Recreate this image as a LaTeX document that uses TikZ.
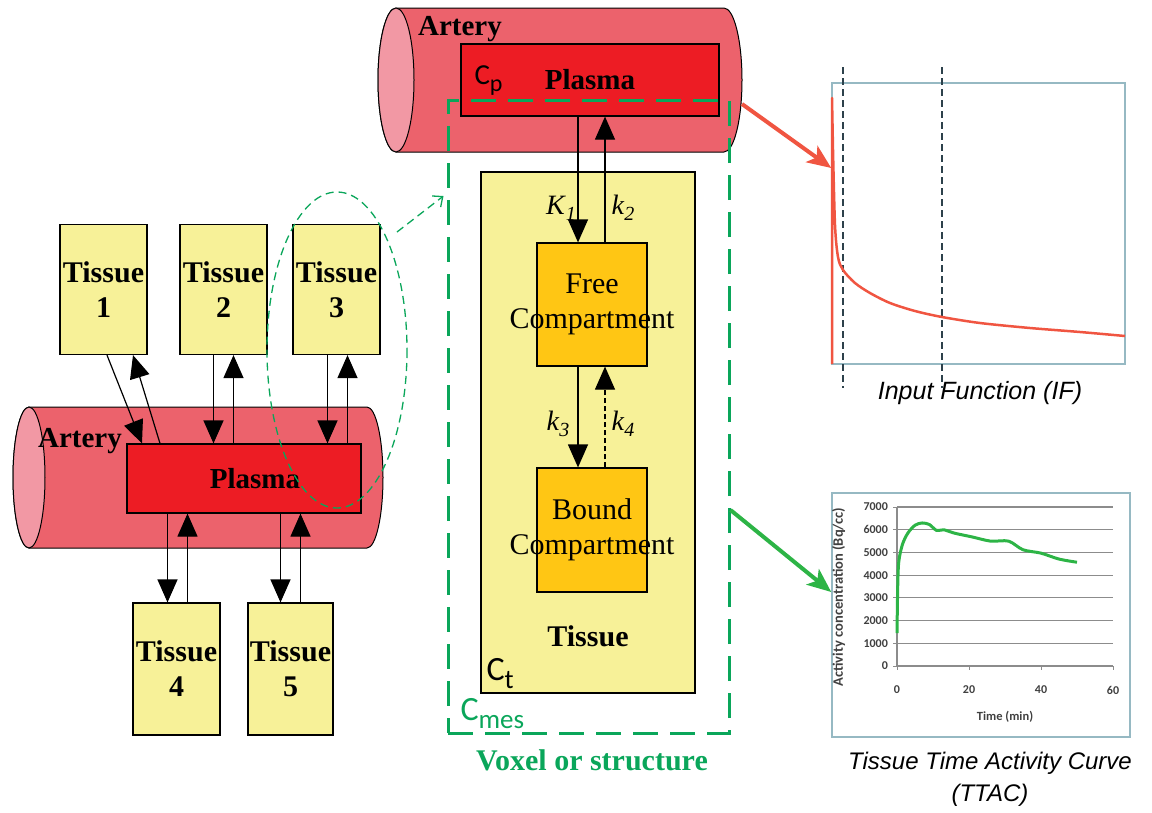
\documentclass[tikz,border=0pt]{standalone}
\usepackage{fontspec}
\setmainfont{Liberation Serif}
\setsansfont{Liberation Sans}
\newfontfamily\calfont{Carlito}
\usetikzlibrary{arrows.meta,calc}
\definecolor{arteryred}{RGB}{236,98,108}
\definecolor{arteryend}{RGB}{242,152,164}
\definecolor{plasmared}{RGB}{237,28,36}
\definecolor{tissueyel}{RGB}{247,241,152}
\definecolor{compyel}{RGB}{255,198,20}
\definecolor{voxgreen}{RGB}{10,166,90}
\definecolor{framegray}{RGB}{150,185,195}
\definecolor{ifred}{RGB}{240,85,65}
\definecolor{ifdark}{RGB}{45,65,75}
\definecolor{ttacgreen}{RGB}{45,180,70}
\definecolor{gridgray}{RGB}{140,140,140}
\newcommand{\fsz}[1]{\fontsize{#1}{#1}\selectfont}
\newcommand{\rate}[2]{\textit{#1}\raisebox{-6pt}{\fsz{20}\textit{#2}}}

\begin{document}
\begin{tikzpicture}[x=1pt, y=-1pt,
  tissuebox/.style={draw, line width=1.2pt, fill=tissueyel, minimum width=87pt, minimum height=130pt, inner sep=0pt, align=center, font=\fontsize{30}{35}\selectfont\bfseries},
  plasmabox/.style={draw, line width=1.2pt, fill=plasmared, inner sep=0pt, font=\fsz{29}\bfseries},
  compbox/.style={draw, line width=1.2pt, fill=compyel, minimum width=110pt, minimum height=123pt, inner sep=0pt, align=center, font=\fontsize{30}{35}\selectfont},
  arr/.style={-{Triangle[length=23pt,width=20pt]}, line width=1.2pt},
  gdash/.style={voxgreen, line width=1.3pt, dash pattern=on 8pt off 5pt},
  plotframe/.style={draw=framegray, line width=1.5pt, inner sep=0pt},
  ticklbl/.style={font=\calfont\bfseries\fsz{12}, text=black!75, inner sep=1pt},
  bigarr/.style={line width=4pt, -{Stealth[length=24pt,width=20pt,inset=6pt]}}
]
\useasboundingbox (0,0) rectangle (1152,812);

% lower artery with its tissues
\draw[fill=arteryred, line width=1pt] (29,407) -- (367,407) arc[start angle=-90, end angle=90, x radius=16, y radius=70.5] -- (29,548) arc[start angle=90, end angle=270, x radius=16, y radius=70.5] -- cycle;
\draw[fill=arteryend, line width=1pt] (29,477.5) ellipse[x radius=16, y radius=70.5];

\node[plasmabox, minimum width=234pt, minimum height=69pt] (pl) at (244,478.5) {\hspace{22pt}Plasma};
\node[anchor=base, font=\fsz{29}\bfseries] (artL) at (80,447) {Artery};

\node[tissuebox] (t1) at (103.5,289.5) {Tissue\\1};
\node[tissuebox] (t2) at (223.5,289.5) {Tissue\\2};
\node[tissuebox] (t3) at (336.5,289.5) {Tissue\\3};
\node[tissuebox, minimum height=132pt] (t4) at (176.5,669) {Tissue\\4};
\node[tissuebox, minimum height=132pt, minimum width=85pt] (t5) at (290.5,669) {Tissue\\5};

\draw[arr] ([xshift=3.5pt]t1.south) -- ([xshift=-102pt]pl.north);
\draw[arr] ([xshift=-84pt]pl.north) -- ([xshift=29.5pt]t1.south);
\draw[arr] ([xshift=-10pt]t2.south) -- ([xshift=-10pt]t2.south |- pl.north);
\draw[arr] ([xshift=10pt]t2.south |- pl.north) -- ([xshift=10pt]t2.south);
\draw[arr] ([xshift=-9pt]t3.south) -- ([xshift=-9pt]t3.south |- pl.north);
\draw[arr] ([xshift=11pt]t3.south |- pl.north) -- ([xshift=11pt]t3.south);
\draw[arr] ([xshift=-9pt]t4.north |- pl.south) -- ([xshift=-9pt]t4.north);
\draw[arr] ([xshift=11pt]t4.north) -- ([xshift=11pt]t4.north |- pl.south);
\draw[arr] ([xshift=-10pt]t5.north |- pl.south) -- ([xshift=-10pt]t5.north);
\draw[arr] ([xshift=10pt]t5.north) -- ([xshift=10pt]t5.north |- pl.south);

% upper artery
\draw[fill=arteryred, line width=1pt] (396,8) -- (724,8) arc[start angle=-90, end angle=90, x radius=18, y radius=72] -- (396,152) arc[start angle=90, end angle=270, x radius=18, y radius=72] -- cycle;
\draw[fill=arteryend, line width=1pt] (396,80) ellipse[x radius=18, y radius=72];
\node[anchor=base, font=\fsz{29}\bfseries] (artT) at (460,35) {Artery};
\node[plasmabox, minimum width=258pt, minimum height=72pt] (plT) at (590,80) {Plasma};
\node[anchor=base west, font=\calfont\fsz{29}] (cp) at (471,84) {C\raisebox{-7pt}{\fsz{24}p}};

% tissue compartments
\node[draw, line width=1.2pt, fill=tissueyel, minimum width=214pt, minimum height=521pt] (tis) at (588,432.5) {};
\node[font=\fsz{30}\bfseries] (tisL) at (588,636) {Tissue};
\node[anchor=base west, font=\calfont\fsz{34}] (ct) at (483,680) {C\raisebox{-8pt}{\fsz{27}t}};
\node[compbox] (free) at (592,304.5) {\makebox[0pt]{Free}\\\makebox[0pt]{Compartment}};
\node[compbox, minimum height=124pt] (bound) at (592,530) {\makebox[0pt]{Bound}\\\makebox[0pt]{Compartment}};

\draw[arr] ([xshift=-14pt]free.north |- plT.south) -- ([xshift=-14pt]free.north);
\draw[arr] ([xshift=13pt]free.north) -- ([xshift=13pt]free.north |- plT.south);
\draw[arr] ([xshift=-14pt]free.south) -- ([xshift=-14pt]bound.north);
\draw[arr, dash pattern=on 5pt off 3pt] ([xshift=13pt]bound.north) -- ([xshift=13pt]free.south);

\node[font=\fsz{28}] (k1) at (561,208) {\rate{K}{1}};
\node[font=\fsz{28}] (k2) at (623,208) {\rate{k}{2}};
\node[font=\fsz{28}] (k3) at (558,424) {\rate{k}{3}};
\node[font=\fsz{28}] (k4) at (623,424) {\rate{k}{4}};

% voxel
\node[draw=voxgreen, line width=3pt, dash pattern=on 25pt off 12pt, minimum width=281pt, minimum height=633pt] (vox) at (588.5,416.5) {};
\node[anchor=base west, font=\calfont\fsz{34}, text=voxgreen] (cmes) at (457,720) {C\raisebox{-8pt}{\fsz{27}mes}};
\node[font=\fsz{30}\bfseries, text=voxgreen] (voxL) at (592,760) {Voxel or structure};

\draw[gdash] (337,350) ellipse[x radius=70, y radius=158];
\coordinate (ellTip) at (397,232);
\draw[gdash, -{Straight Barb[length=8pt,width=14pt]}] (ellTip) -- ([xshift=-3pt,yshift=220.5pt]vox.west);

% input function
\node[plotframe, minimum width=293pt, minimum height=281pt] (ifbox) at (978.5,223.5) {};
\draw[ifdark, line width=1.2pt, dash pattern=on 7pt off 4pt] (843,67) -- (843,388) (942,67) -- (942,388);
\draw[ifred, line width=2.5pt, line join=round] (832,364) -- (832,98) -- plot[smooth, tension=0.5] coordinates {(833,150) (835,225) (838,257) (843,270) (855,283) (870,293) (890,303) (915,311) (942,317) (980,323) (1030,328) (1080,332) (1125,336)};
\node[font=\sffamily\itshape\fsz{25}] (ifL) at (980,393) {Input Function (IF)};
\coordinate (ifSrc) at (742,104);
\draw[bigarr, ifred] (ifSrc) -- ([yshift=55.5pt]ifbox.west);

% tissue time activity curve
\node[plotframe, minimum width=298pt, minimum height=244pt] (ttac) at (981,615) {};
\begin{scope}[shift={(897,666)}, x=3.6pt, y=0.0227pt]
  \foreach \v in {1000,2000,...,7000} \draw[gridgray, line width=1.2pt] (0,\v) -- (60,\v);
  \draw[gridgray, line width=1.2pt] (0,0) -- (60,0) (0,0) -- (0,7000);
  \foreach \v in {0,1000,...,7000} {
    \draw[gridgray, line width=1pt] (0,\v) -- ++(-4pt,0pt);
    \node[ticklbl, anchor=east] at (-2.2,\v) {\v};
  }
  \foreach \t in {0,20,40,60} {
    \draw[gridgray, line width=1pt] (\t,0) -- ++(0pt,-4pt);
    \node[ticklbl] at (\t,-1060) {\t};
  }
  \node[ticklbl, font=\calfont\bfseries\fsz{12.5}] (tmL) at (30,-2250) {Time (min)};
  \node[ticklbl, font=\calfont\bfseries\fsz{14.5}, rotate=90] (acL) at (-16.2,3040) {Activity concentration (Bq/cc)};
  \draw[ttacgreen, line width=3pt, line join=round] plot[smooth, tension=0.5] coordinates {(0,1450) (0.2,3500) (0.5,4600) (1.5,5350) (3,5850) (5,6200) (7,6300) (9,6230) (11,5970) (13,6000) (16,5850) (21,5680) (26,5500) (31,5500) (35,5120) (40,4970) (45,4710) (50,4570)};
\end{scope}
\node[font=\sffamily\itshape\fontsize{24}{32}\selectfont, align=center] (ttacL) at (990,779) {Tissue Time Activity Curve\\(TTAC)};
\draw[bigarr, ttacgreen] ([yshift=-93.5pt]vox.east) -- ([yshift=23pt]ttac.west);
\end{tikzpicture}
\end{document}
